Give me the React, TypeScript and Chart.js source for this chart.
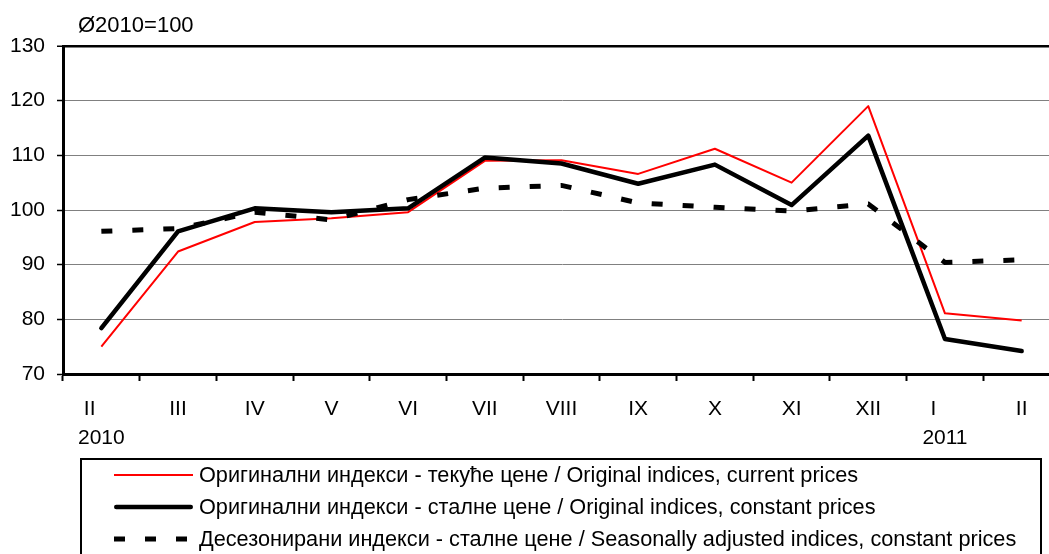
import React, { useEffect, useRef } from 'react';
import { Chart, registerables } from 'chart.js';

Chart.register(...registerables);

const FONT = '"Liberation Sans", Arial, Helvetica, sans-serif';

const months = ['II', 'III', 'IV', 'V', 'VI', 'VII', 'VIII', 'IX', 'X', 'XI', 'XII', 'I', 'II'];
const years = ['2010', '', '', '', '', '', '', '', '', '', '', '2011', ''];

const currentPrices = [75.0, 92.4, 97.8, 98.5, 99.6, 109.0, 109.1, 106.6, 111.2, 105.0, 119.0, 81.1, 79.8];
const constantPrices = [78.4, 96.1, 100.3, 99.6, 100.3, 109.6, 108.5, 104.8, 108.3, 100.9, 113.6, 76.4, 74.2];
const seasonallyAdjusted = [96.1, 96.6, 99.6, 98.2, 101.9, 104.0, 104.5, 101.3, 100.5, 99.8, 101.1, 90.4, 90.9];

const seriesNames = [
  'Оригинални индекси - текуће цене / Original indices, current prices',
  'Оригинални индекси - сталне цене / Original indices, constant prices',
  'Десезонирани индекси - сталне цене / Seasonally adjusted indices, constant prices',
];

const yMin = 70;
const yMax = 130;
const yStep = 10;
const baseNote = 'Ø2010=100';

const CANVAS_W = 1062;
const CANVAS_H = 560;

const overlayPlugin = {
  id: 'overlay',
  afterDraw(chart: any) {
    const ctx = chart.ctx as CanvasRenderingContext2D;
    ctx.save();
    ctx.fillStyle = '#000';
    ctx.textBaseline = 'middle';
    ctx.textAlign = 'left';
    ctx.font = `22px ${FONT}`;
    ctx.fillText(baseNote, 78, 26);

    // legend frame
    ctx.lineWidth = 2;
    ctx.strokeStyle = '#000';
    ctx.setLineDash([]);
    ctx.strokeRect(81, 459, 960, 140);

    chart.data.datasets.forEach((ds: any, i: number) => {
      const y = 475 + i * 32;
      ctx.save();
      ctx.strokeStyle = ds.borderColor;
      ctx.lineWidth = ds.borderWidth;
      ctx.setLineDash(ds.borderDash || []);
      const cap = ds.borderCapStyle || 'butt';
      ctx.lineCap = cap;
      const inset = cap === 'round' ? ds.borderWidth / 2 : 0;
      ctx.beginPath();
      ctx.moveTo(114 + inset, y);
      ctx.lineTo(193 - inset, y);
      ctx.stroke();
      ctx.restore();
      ctx.fillStyle = '#000';
      ctx.font = `21.7px ${FONT}`;
      ctx.textBaseline = 'middle';
      ctx.fillText(ds.label, 199, y + 1);
    });
    ctx.restore();
  },
};

export default function App() {
  const canvasRef = useRef<HTMLCanvasElement | null>(null);

  useEffect(() => {
    if (!canvasRef.current) return;
    const labels = months.map((m, i) => (years[i] ? [m + '    ', years[i]] : [m, '']));
    const chart = new Chart(canvasRef.current, {
      type: 'line',
      data: {
        labels,
        datasets: [
          {
            label: seriesNames[0],
            data: currentPrices,
            borderColor: '#FF0000',
            borderWidth: 2,
            pointRadius: 0,
            tension: 0,
            borderJoinStyle: 'round',
            fill: false,
            order: 3,
          },
          {
            label: seriesNames[1],
            data: constantPrices,
            borderColor: '#000000',
            borderWidth: 4.5,
            pointRadius: 0,
            tension: 0,
            borderJoinStyle: 'round',
            borderCapStyle: 'round',
            fill: false,
            order: 1,
          },
          {
            label: seriesNames[2],
            data: seasonallyAdjusted,
            borderColor: '#000000',
            borderWidth: 5,
            borderDash: [11, 20],
            pointRadius: 0,
            tension: 0,
            fill: false,
            order: 2,
          },
        ],
      },
      options: {
        responsive: false,
        animation: false,
        layout: { padding: { top: 46, left: 0, right: 2, bottom: CANVAS_H - 374 - 85 } },
        plugins: {
          legend: { display: false },
          tooltip: { enabled: false },
          title: { display: false },
        },
        scales: {
          x: {
            type: 'category',
            offset: true,
            grid: {
              offset: true,
              drawOnChartArea: false,
              drawTicks: true,
              tickLength: 7,
              tickWidth: 2,
              tickColor: '#000',
            },
            border: { color: '#000', width: 3 },
            ticks: {
              color: '#000',
              font: { size: 21, family: FONT, lineHeight: 1.38 },
              padding: 14,
              maxRotation: 0,
              minRotation: 0,
              autoSkip: false,
            },
            afterFit: (s: any) => {
              s.height = 85;
            },
          },
          y: {
            min: yMin,
            max: yMax,
            ticks: {
              stepSize: yStep,
              color: '#000',
              font: { size: 21, family: FONT },
              padding: 12,
            },
            grid: {
              color: (c: any) => (c.tick && c.tick.value === yMax ? '#000' : '#808080'),
              lineWidth: (c: any) => (c.tick && c.tick.value === yMax ? 2.5 : 1),
              tickLength: 6,
              tickColor: '#000',
              tickWidth: 1.5,
            },
            border: { color: '#000', width: 3 },
            afterFit: (s: any) => {
              s.width = 63;
            },
          },
        },
      },
      plugins: [overlayPlugin],
    } as any);
    return () => chart.destroy();
  }, []);

  return (
    <div
      style={{
        position: 'fixed',
        left: 0,
        top: 0,
        width: 1049,
        height: 554,
        overflow: 'hidden',
        background: '#fff',
      }}
    >
      <canvas ref={canvasRef} width={CANVAS_W} height={CANVAS_H} style={{ display: 'block' }} />
    </div>
  );
}
